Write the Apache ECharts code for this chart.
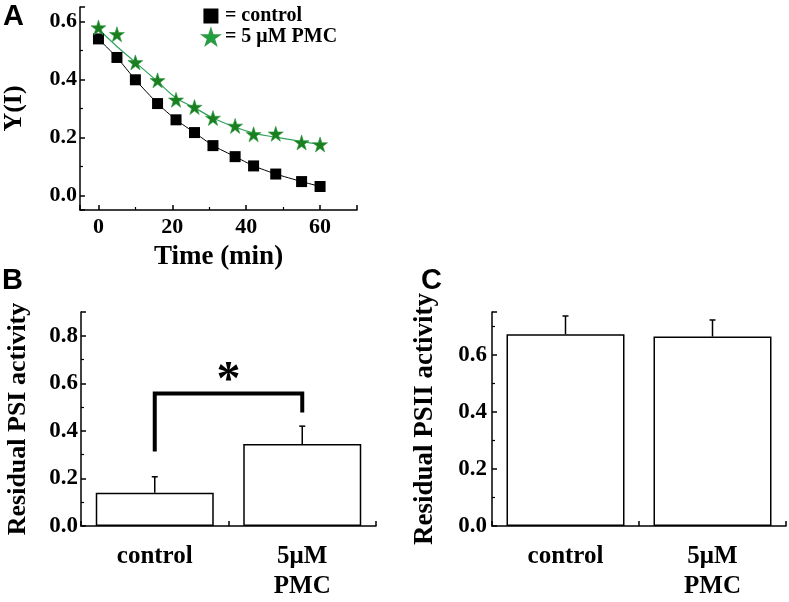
<!DOCTYPE html>
<html><head><meta charset="utf-8">
<script src="https://cdn.jsdelivr.net/npm/echarts@6/dist/echarts.min.js"></script>
<style>html,body{margin:0;padding:0;background:#fff}#c{width:789px;height:602px}</style>
</head><body><div id="c"></div>
<script>
// ---- Panel A data ----
const timeMin  = [0, 5, 10, 16, 21, 26, 31, 37, 42, 48, 55, 60];
const controlY = [0.540, 0.476, 0.399, 0.317, 0.261, 0.217, 0.172, 0.134, 0.102, 0.074, 0.048, 0.031];
const pmcY     = [0.579, 0.556, 0.459, 0.397, 0.330, 0.305, 0.267, 0.240, 0.211, 0.213, 0.183, 0.176];
const pmcFitY  = [0.574, 0.514, 0.459, 0.393, 0.336, 0.303, 0.267, 0.236, 0.215, 0.201, 0.186, 0.177];
const seriesNames = ['control', '5 μM PMC'];
// ---- Panel B / C data ----
const groups   = ['control', '5μM\nPMC'];
const psiMean  = [0.140, 0.345];
const psiErr   = [0.067, 0.075];
const psiiMean = [0.672, 0.664];
const psiiErr  = [0.064, 0.058];
const sigBracketTop  = 0.557;
const sigBracketEnds = [0.313, 0.477];
const sigMark = '*';

const SERIF = '"Liberation Serif","Times New Roman",serif';
const starPath = 'path://M50,0 L61.8,35.4 L99,35.4 L69,57.3 L80.4,92.7 L50,70.8 L19.6,92.7 L31,57.3 L1,35.4 L38.2,35.4 Z';
const squarePath = 'path://M0,0H10V10H0Z';

function axisBase(fs) {
  return {
    axisLine: {show: true, onZero: false, lineStyle: {color: '#000', width: 1.5}},
    axisTick: {show: true, inside: true, length: 5, lineStyle: {color: '#000', width: 1.5}},
    minorTick: {show: true, splitNumber: 2, length: 3, lineStyle: {color: '#000', width: 1.2}},
    splitLine: {show: false},
    minorSplitLine: {show: false},
    axisLabel: {color: '#000', fontFamily: SERIF, fontWeight: 'bold', fontSize: fs, showMinLabel: false, showMaxLabel: false},
    nameTextStyle: {color: '#000', fontFamily: SERIF, fontWeight: 'bold'}
  };
}
function merge(a, b) {
  const o = Object.assign({}, a);
  for (const k in b) {
    if (b[k] && typeof b[k] === 'object' && !Array.isArray(b[k]) && a[k] && typeof a[k] === 'object') o[k] = Object.assign({}, a[k], b[k]);
    else o[k] = b[k];
  }
  return o;
}
function errRender(params, api) {
  const x = api.value(0), y = api.value(1), e = api.value(2);
  const p0 = api.coord([x, y]), p1 = api.coord([x, y + e]);
  return {type: 'group', children: [
    {type: 'line', shape: {x1: p0[0], y1: p0[1], x2: p1[0], y2: p1[1]}, style: {stroke: '#000', lineWidth: 1.5}},
    {type: 'line', shape: {x1: p1[0] - 3, y1: p1[1], x2: p1[0] + 3, y2: p1[1]}, style: {stroke: '#000', lineWidth: 1.5}}
  ]};
}
function catLabel(v) {
  const i = Math.round(v) - 1;
  return (Math.abs(v - Math.round(v)) < 1e-6 && i >= 0 && i < groups.length) ? groups[i] : '';
}

const chart = echarts.init(document.getElementById('c'), null, {renderer: 'canvas'});
const option = {
  animation: false,
  backgroundColor: '#fff',
  grid: [
    {left: 80, top: 7, width: 277, height: 203},
    {left: 81, top: 312, width: 295, height: 216},
    {left: 492, top: 312, width: 295, height: 216}
  ],
  legend: {
    left: 197, top: 1, orient: 'vertical', itemGap: 1, itemWidth: 18, itemHeight: 15,
    formatter: n => '= ' + n,
    textStyle: {color: '#000', fontFamily: SERIF, fontWeight: 'bold', fontSize: 20},
    data: [
      {name: seriesNames[0], icon: squarePath, itemStyle: {color: '#000'}},
      {name: seriesNames[1], icon: starPath, itemStyle: {color: '#17a53a'}}
    ]
  },
  xAxis: [
    merge(axisBase(22), {gridIndex: 0, type: 'value', min: -5, max: 70, splitNumber: 4,
      name: 'Time (min)', nameLocation: 'middle', nameGap: 34,
      nameTextStyle: {fontSize: 27}, axisLabel: {margin: 6}}),
    merge(axisBase(25), {gridIndex: 1, type: 'value', min: 0.5, max: 2.5, interval: 0.5,
      minorTick: {show: false},
      axisLabel: {margin: 16, lineHeight: 30, formatter: catLabel, showMinLabel: true, showMaxLabel: true}}),
    merge(axisBase(25), {gridIndex: 2, type: 'value', min: 0.5, max: 2.5, interval: 0.5,
      minorTick: {show: false},
      axisLabel: {margin: 16, lineHeight: 30, formatter: catLabel, showMinLabel: true, showMaxLabel: true}})
  ],
  yAxis: [
    merge(axisBase(22), {gridIndex: 0, type: 'value', min: -0.05, max: 0.65, splitNumber: 4,
      name: 'Y(I)', nameLocation: 'middle', nameGap: 53, nameRotate: 90,
      nameTextStyle: {fontSize: 26}, axisLabel: {margin: 3, formatter: v => v.toFixed(1)}}),
    merge(axisBase(23), {gridIndex: 1, type: 'value', min: 0, max: 0.9, interval: 0.2,
      name: 'Residual PSI activity', nameLocation: 'middle', nameGap: 50, nameRotate: 90,
      nameTextStyle: {fontSize: 26}, axisLabel: {margin: 3, showMinLabel: true, formatter: v => v.toFixed(1)}}),
    merge(axisBase(23), {gridIndex: 2, type: 'value', min: 0, max: 0.75, interval: 0.2,
      name: 'Residual PSII activity', nameLocation: 'middle', nameGap: 53, nameRotate: 90,
      nameTextStyle: {fontSize: 27}, axisLabel: {margin: 5, showMinLabel: true, formatter: v => v.toFixed(1)}})
  ],
  graphic: [
    {type: 'text', left: 3, top: 2, style: {text: 'A', font: 'bold 29px "Liberation Sans", Arial, sans-serif', fill: '#000'}},
    {type: 'text', left: 2, top: 266, style: {text: 'B', font: 'bold 29px "Liberation Sans", Arial, sans-serif', fill: '#000'}},
    {type: 'text', left: 421, top: 266, style: {text: 'C', font: 'bold 29px "Liberation Sans", Arial, sans-serif', fill: '#000'}}
  ],
  series: [
    {
      name: seriesNames[1] + ' fit', type: 'line', xAxisIndex: 0, yAxisIndex: 0,
      data: timeMin.map((t, i) => [t, pmcFitY[i]]), smooth: 0.4, showSymbol: false, symbol: 'none',
      lineStyle: {color: '#2ea35e', width: 1.2}, z: 2, silent: true
    },
    {
      name: seriesNames[0], type: 'line', xAxisIndex: 0, yAxisIndex: 0,
      data: timeMin.map((t, i) => [t, controlY[i]]), smooth: 0.15,
      symbol: squarePath, symbolSize: 11, showSymbol: true,
      itemStyle: {color: '#000', opacity: 1}, lineStyle: {color: '#000', width: 1}, z: 3
    },
    {
      name: seriesNames[1], type: 'scatter', xAxisIndex: 0, yAxisIndex: 0,
      data: timeMin.map((t, i) => [t, pmcY[i]]),
      symbol: starPath, symbolSize: 15,
      itemStyle: {color: '#1a7f1e', opacity: 1, borderColor: '#2f9a45', borderWidth: 0.6}, z: 4
    },
    {
      type: 'bar', xAxisIndex: 1, yAxisIndex: 1, barWidth: 118,
      data: psiMean.map((v, i) => [i + 1, v]),
      itemStyle: {color: '#fff', borderColor: '#000', borderWidth: 1.5}
    },
    {
      type: 'custom', xAxisIndex: 1, yAxisIndex: 1, renderItem: errRender,
      encode: {x: 0, y: 1}, data: psiMean.map((v, i) => [i + 1, v, psiErr[i]]), z: 5
    },
    {
      type: 'line', xAxisIndex: 1, yAxisIndex: 1, symbol: 'none',
      data: [[1, sigBracketEnds[0]], [1, sigBracketTop], [2, sigBracketTop], [2, sigBracketEnds[1]]],
      lineStyle: {color: '#000', width: 4, join: 'miter', cap: 'butt'}, z: 6
    },
    {
      type: 'custom', xAxisIndex: 1, yAxisIndex: 1, encode: {x: 0, y: 1},
      data: [[1.5, sigBracketTop]],
      renderItem: function (params, api) {
        const p = api.coord([api.value(0), api.value(1)]);
        return {type: 'text', x: p[0], y: p[1] + 12, style: {text: sigMark, font: 'bold 48px ' + SERIF, fill: '#000', align: 'center', verticalAlign: 'bottom'}};
      }, z: 6
    },
    {
      type: 'bar', xAxisIndex: 2, yAxisIndex: 2, barWidth: 118,
      data: psiiMean.map((v, i) => [i + 1, v]),
      itemStyle: {color: '#fff', borderColor: '#000', borderWidth: 1.5}
    },
    {
      type: 'custom', xAxisIndex: 2, yAxisIndex: 2, renderItem: errRender,
      encode: {x: 0, y: 1}, data: psiiMean.map((v, i) => [i + 1, v, psiiErr[i]]), z: 5
    }
  ]
};
chart.setOption(option);
</script>
</body></html>
